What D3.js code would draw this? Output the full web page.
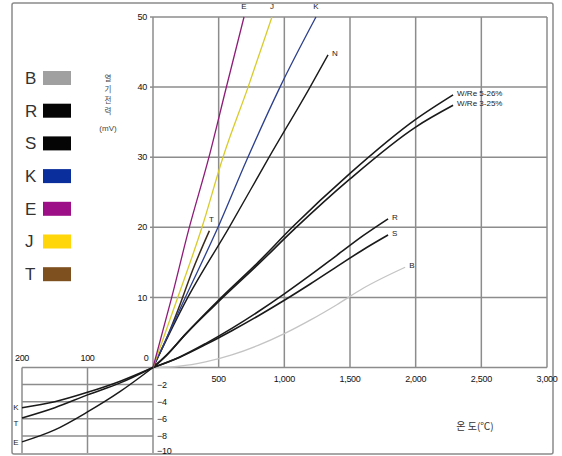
<!DOCTYPE html>
<html>
<head>
<meta charset="utf-8">
<script src="https://cdn.jsdelivr.net/npm/d3@7"></script>
<style>
  body { margin: 0; background: #fff; }
  svg { display: block; font-family: "Liberation Sans", Arial, sans-serif; }
</style>
</head>
<body>
<div id="chart"></div>
<script>
// thermocouple EMF vs temperature
const xTicks = [500, 1000, 1500, 2000, 2500, 3000];
const yTicks = [10, 20, 30, 40, 50];
const negXTicks = [-200, -100, 0];
const negYTicks = [-2, -4, -6, -8, -10];

const tE = [0, 137, 274, 426, 556, 693];
const vE = [0, 9.6, 19.8, 30, 39.8, 50];
const tJ = [0, 183, 373, 533, 724, 906];
const vJ = [0, 9.7, 20, 30, 40, 50];
const tK = [0, 246, 495, 716, 967, 1241];
const vK = [0, 10, 20, 29.7, 40, 50];
const tN = [0, 265, 580, 884, 1196, 1333];
const vN = [0, 10, 20, 30, 40, 44.6];
const tT = [0, 100, 200, 300, 429];
const vT = [0, 4.0, 8.7, 13.8, 19.5];
const tW5 = [0, 100, 250, 510, 800, 1060, 1500, 2000, 2285];
const vW5 = [0, 1.7, 4.8, 9.8, 15, 20, 27.7, 35.4, 38.9];
const tW3 = [0, 100, 250, 510, 800, 1080, 1500, 2000, 2285];
const vW3 = [0, 1.7, 4.8, 9.6, 14.7, 19.8, 26.9, 34.3, 37.4];
const tR = [0, 200, 400, 600, 800, 1000, 1200, 1400, 1600, 1790];
const vR = [0, 1.47, 3.41, 5.58, 7.95, 10.5, 13.2, 16.0, 18.8, 21.2];
const tS = [0, 200, 400, 600, 800, 1000, 1200, 1400, 1600, 1790];
const vS = [0, 1.44, 3.26, 5.24, 7.35, 9.59, 11.95, 14.4, 16.8, 18.9];
const tB = [0, 200, 400, 600, 800, 1000, 1200, 1400, 1600, 1920];
const vB = [0, 0.18, 0.79, 1.79, 3.15, 4.83, 6.79, 8.96, 11.3, 14.3];

// below zero (small box at lower left)
const tNeg = [0, -50, -100, -150, -200];
const vNegK = [0, -1.6, -2.9, -4.0, -4.7];
const vNegT = [0, -1.8, -3.2, -4.7, -5.9];
const vNegE = [0, -2.8, -5.2, -7.3, -8.7];

const legendKeys = ["B", "R", "S", "K", "E", "J", "T"];
const legendColors = ["#a0a0a0", "#050505", "#050505", "#0a2f9c", "#9c0f86", "#ffd60a", "#7e4f1f"];

const width = 562, height = 456;

const svg = d3.select("#chart").append("svg")
    .attr("width", width)
    .attr("height", height);

// outer frame
svg.append("rect")
    .attr("x", 12).attr("y", 3)
    .attr("width", 541).attr("height", 451)
    .attr("rx", 2)
    .attr("fill", "none")
    .attr("stroke", "#8a8a8a")
    .attr("stroke-width", 1.5);

const x = d3.scaleLinear().domain([0, 3000]).range([153, 547]);
const y = d3.scaleLinear().domain([0, 50]).range([367.5, 17]);
const xn = d3.scaleLinear().domain([-200, 0]).range([22, 153]);
const yn = d3.scaleLinear().domain([-10, 0]).range([453, 367.5]);

const gridColor = "#8c8c8c";

// main grid
const grid = svg.append("g").attr("stroke", gridColor).attr("stroke-width", 1.5).attr("fill", "none");
grid.selectAll(".vx")
  .data([0].concat(xTicks))
  .join("line")
    .attr("x1", d => x(d)).attr("x2", d => x(d))
    .attr("y1", y(0)).attr("y2", y(50));
grid.selectAll(".hy")
  .data([0].concat(yTicks))
  .join("line")
    .attr("class", "hy")
    .attr("x1", x(0)).attr("x2", x(3000))
    .attr("y1", d => y(d)).attr("y2", d => y(d));

// negative grid
grid.selectAll(".nvx")
  .data(negXTicks)
  .join("line")
    .attr("class", "nvx")
    .attr("x1", d => xn(d)).attr("x2", d => xn(d))
    .attr("y1", yn(0)).attr("y2", yn(-10));
grid.selectAll(".nhy")
  .data([0, -2, -4, -6, -8])
  .join("line")
    .attr("class", "nhy")
    .attr("x1", xn(-200)).attr("x2", xn(0))
    .attr("y1", d => yn(d)).attr("y2", d => yn(d));

// little ticks left of the main y axis
grid.selectAll(".yt")
  .data(yTicks)
  .join("line")
    .attr("class", "yt")
    .attr("x1", x(0) - 3).attr("x2", x(0))
    .attr("y1", d => y(d)).attr("y2", d => y(d));

const tickFont = 9;
const labels = svg.append("g")
    .attr("font-size", tickFont)
    .attr("fill", "#111")
    .attr("letter-spacing", -0.3);

labels.selectAll(".yl")
  .data(yTicks)
  .join("text")
    .attr("x", 147)
    .attr("y", d => y(d))
    .attr("dy", "0.35em")
    .attr("text-anchor", "end")
    .text(d => d);

labels.selectAll(".xl")
  .data(xTicks)
  .join("text")
    .attr("class", "xl")
    .attr("x", d => x(d))
    .attr("y", 382)
    .attr("text-anchor", "middle")
    .text(d => d3.format(",")(d));

labels.selectAll(".nxl")
  .data(negXTicks)
  .join("text")
    .attr("class", "nxl")
    .attr("x", d => d === 0 ? 146 : xn(d))
    .attr("y", 361)
    .attr("text-anchor", "middle")
    .text(d => Math.abs(d));

labels.selectAll(".nyl")
  .data(negYTicks)
  .join("text")
    .attr("class", "nyl")
    .attr("x", 157)
    .attr("y", d => d === -10 ? yn(d) - 2 : yn(d))
    .attr("dy", "0.35em")
    .attr("text-anchor", "start")
    .text(d => "\u2212" + Math.abs(d));

// axis titles (vertical, one syllable per line)
const yTitle = ["열", "기", "전", "력"];
svg.append("g")
    .attr("font-size", 7.5)
    .attr("fill", "#444")
    .attr("font-family", "'Noto Sans CJK KR', sans-serif")
  .selectAll("text")
  .data(yTitle)
  .join("text")
    .attr("x", 108)
    .attr("y", (d, i) => 81 + i * 11)
    .attr("text-anchor", "middle")
    .text(d => d);
svg.append("text")
    .attr("x", 108).attr("y", 131)
    .attr("text-anchor", "middle")
    .attr("font-size", 8)
    .attr("fill", "#444")
    .text("(mV)");

svg.append("text")
    .attr("x", 475).attr("y", 430)
    .attr("text-anchor", "middle")
    .attr("font-size", 10)
    .attr("fill", "#333")
    .attr("font-family", "'Noto Sans CJK KR', sans-serif")
    .text("온 도(℃)");

// legend
const legend = svg.append("g")
  .selectAll("g")
  .data(legendKeys)
  .join("g")
    .attr("transform", (d, i) => `translate(25,${78 + i * 32.7})`);
legend.append("text")
    .attr("x", 0).attr("y", 0)
    .attr("dy", "0.35em")
    .attr("font-size", 17)
    .attr("fill", "#333")
    .text(d => d);
legend.append("rect")
    .attr("x", 18).attr("y", -7)
    .attr("width", 28).attr("height", 14)
    .attr("fill", (d, i) => legendColors[i]);

// curves
const line = d3.line()
    .x(d => x(d[0]))
    .y(d => y(d[1]))
    .curve(d3.curveMonotoneX);
const lineNeg = d3.line()
    .x(d => xn(d[0]))
    .y(d => yn(d[1]))
    .curve(d3.curveMonotoneX);

const curves = [
  {t: tB, v: vB, color: "#c4c4c4", w: 1.3},
  {t: tS, v: vS, color: "#1a1a1a", w: 1.6},
  {t: tR, v: vR, color: "#1a1a1a", w: 1.6},
  {t: tW3, v: vW3, color: "#1a1a1a", w: 1.6},
  {t: tW5, v: vW5, color: "#1a1a1a", w: 1.6},
  {t: tN, v: vN, color: "#1a1a1a", w: 1.4},
  {t: tT, v: vT, color: "#3a2a1a", w: 1.5},
  {t: tK, v: vK, color: "#2c3f8c", w: 1.3},
  {t: tJ, v: vJ, color: "#d8cb2a", w: 1.3},
  {t: tE, v: vE, color: "#8e1c78", w: 1.3}
];

svg.append("g")
    .attr("fill", "none")
  .selectAll("path")
  .data(curves)
  .join("path")
    .attr("stroke", d => d.color)
    .attr("stroke-width", d => d.w)
    .attr("d", d => line(d3.zip(d.t, d.v)));

const negCurves = [
  {v: vNegK, label: "K"},
  {v: vNegT, label: "T"},
  {v: vNegE, label: "E"}
];
svg.append("g")
    .attr("fill", "none")
    .attr("stroke", "#1a1a1a")
    .attr("stroke-width", 1.5)
  .selectAll("path")
  .data(negCurves)
  .join("path")
    .attr("d", d => lineNeg(d3.zip(tNeg, d.v)));

// curve labels
const curveLabels = svg.append("g")
    .attr("font-size", 8)
    .attr("fill", "#222");
const topLabels = [["E", 693, 50], ["J", 906, 50], ["K", 1241, 50]];
curveLabels.selectAll(".tl")
  .data(topLabels)
  .join("text")
    .attr("x", d => x(d[1]))
    .attr("y", 9)
    .attr("text-anchor", "middle")
    .text(d => d[0]);
const endLabels = [
  ["N", tN[tN.length - 1], vN[vN.length - 1]],
  ["W/Re 5-26%", tW5[tW5.length - 1], vW5[vW5.length - 1]],
  ["W/Re 3-25%", tW3[tW3.length - 1], vW3[vW3.length - 1]],
  ["R", tR[tR.length - 1], vR[vR.length - 1]],
  ["S", tS[tS.length - 1], vS[vS.length - 1]],
  ["B", tB[tB.length - 1], vB[vB.length - 1]]
];
curveLabels.selectAll(".el")
  .data(endLabels)
  .join("text")
    .attr("x", d => x(d[1]) + 4)
    .attr("y", d => y(d[2]) - 2)
    .attr("dy", "0.35em")
    .text(d => d[0]);
curveLabels.append("text")
    .attr("x", x(445)).attr("y", y(20.8))
    .attr("text-anchor", "middle")
    .text("T");
curveLabels.selectAll(".nl")
  .data(negCurves)
  .join("text")
    .attr("x", 16)
    .attr("y", (d, i) => [410, 426, 445][i])
    .attr("text-anchor", "middle")
    .text(d => d.label);
</script>
</body>
</html>
